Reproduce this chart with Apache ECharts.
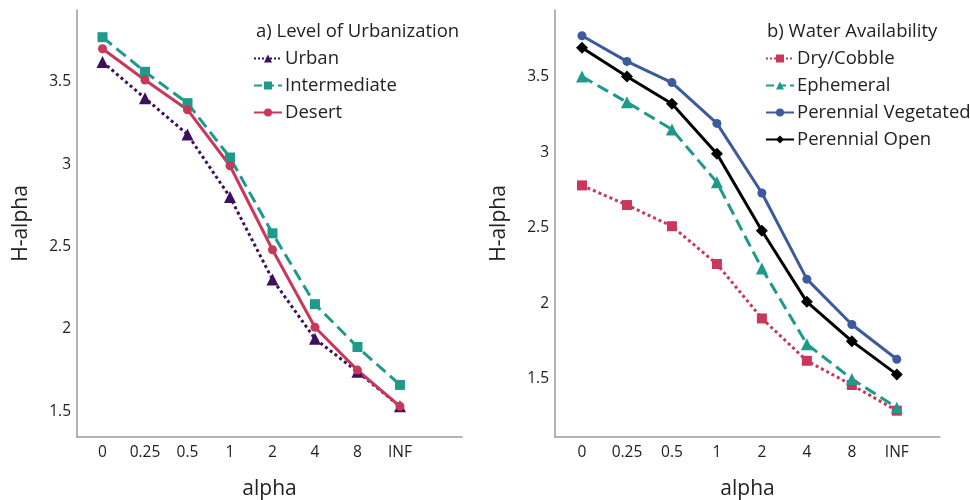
<!DOCTYPE html>
<html>
<head>
<meta charset="utf-8">
<script src="https://cdn.jsdelivr.net/npm/echarts@6/dist/echarts.min.js"></script>
<style>
  html, body { margin: 0; padding: 0; background: #fff; }
  #chart { width: 970px; height: 500px; }
</style>
</head>
<body>
<div id="chart"></div>
<script>
// categories on the x axis
var alphaLabels = ['0', '0.25', '0.5', '1', '2', '4', '8', 'INF'];
var yTicks = [1.5, 2, 2.5, 3, 3.5];

// a) level of urbanization
var urban        = [3.62, 3.40, 3.18, 2.80, 2.30, 1.94, 1.74, 1.53];
var intermediate = [3.77, 3.56, 3.37, 3.04, 2.58, 2.15, 1.89, 1.66];
var desert       = [3.70, 3.51, 3.33, 2.99, 2.48, 2.01, 1.75, 1.53];

// b) water availability
var dryCobble    = [2.78, 2.65, 2.51, 2.26, 1.90, 1.62, 1.46, 1.29];
var ephemeral    = [3.50, 3.33, 3.15, 2.80, 2.23, 1.73, 1.50, 1.31];
var perVegetated = [3.77, 3.60, 3.46, 3.19, 2.73, 2.16, 1.86, 1.63];
var perOpen      = [3.69, 3.50, 3.32, 2.99, 2.48, 2.01, 1.75, 1.53];

var font = '"Open Sans", sans-serif';
var axisColor = '#9a9a9a';

function pairs(arr) {
  return arr.map(function (v, i) { return [i, v]; });
}

function xAxis(idx, max) {
  return {
    type: 'value', gridIndex: idx, min: -0.6, max: max,
    name: 'alpha', nameLocation: 'middle', nameGap: 42,
    nameTextStyle: { fontSize: 21, color: '#222', fontFamily: font },
    axisLine: { show: true, onZero: false, lineStyle: { color: axisColor, width: 1.5 } },
    axisTick: { show: false },
    splitLine: { show: false },
    axisLabel: {
      customValues: [0, 1, 2, 3, 4, 5, 6, 7],
      formatter: function (v) { return alphaLabels[Math.round(v)]; },
      fontSize: 15.5, color: '#222', fontFamily: font, margin: 8
    }
  };
}

function yAxis(idx, min, max) {
  return {
    type: 'value', gridIndex: idx, min: min, max: max,
    name: 'H-alpha', nameLocation: 'middle', nameGap: 45,
    nameTextStyle: { fontSize: 21, color: '#222', fontFamily: font },
    axisLine: { show: true, onZero: false, lineStyle: { color: axisColor, width: 1.5 } },
    axisTick: { show: false },
    splitLine: { show: false },
    axisLabel: {
      customValues: yTicks,
      fontSize: 15.5, color: '#222', fontFamily: font, margin: 6
    }
  };
}

function line(name, data, idx, color, type, symbol, size) {
  return {
    name: name, type: 'line', xAxisIndex: idx, yAxisIndex: idx,
    data: pairs(data), symbol: symbol, symbolSize: size,
    itemStyle: { color: color },
    lineStyle: { color: color, width: 3, type: type },
    emphasis: { disabled: true }
  };
}

var legendText = { fontSize: 18.5, color: '#222', padding: [0, 0, 0, -2] };

var chart = echarts.init(document.getElementById('chart'));
chart.setOption({
  animation: false,
  textStyle: { fontFamily: font },
  title: [
    { text: 'a) Level of Urbanization', left: 256, top: 22, padding: 0,
      textStyle: { fontSize: 18.5, fontWeight: 'normal', color: '#222' } },
    { text: 'b) Water Availability', left: 767, top: 22, padding: 0,
      textStyle: { fontSize: 18.5, fontWeight: 'normal', color: '#222' } }
  ],
  legend: [
    { data: ['Urban', 'Intermediate', 'Desert'], orient: 'vertical', padding: 0,
      left: 253, top: 49, itemWidth: 28, itemHeight: 10, itemGap: 8,
      textStyle: legendText },
    { data: ['Dry/Cobble', 'Ephemeral', 'Perennial Vegetated', 'Perennial Open'],
      orient: 'vertical', left: 765, top: 49, padding: 0,
      itemWidth: 28, itemHeight: 10, itemGap: 8,
      textStyle: legendText }
  ],
  grid: [
    { left: 77, top: 10, right: 508, bottom: 63, outerBoundsMode: 'none' },
    { left: 555, top: 10, right: 30, bottom: 63, outerBoundsMode: 'none' }
  ],
  xAxis: [xAxis(0, 8.46), xAxis(1, 7.96)],
  yAxis: [yAxis(0, 1.344, 3.935), yAxis(1, 1.116, 3.94)],
  series: [
    line('Urban', urban, 0, '#3e0f5c', 'dotted', 'triangle', 12),
    line('Intermediate', intermediate, 0, '#1f9a8a', 'dashed', 'rect', 10),
    line('Desert', desert, 0, '#c8385a', 'solid', 'circle', 9),
    line('Dry/Cobble', dryCobble, 1, '#c8385a', 'dotted', 'rect', 10),
    line('Ephemeral', ephemeral, 1, '#1f9a8a', 'dashed', 'triangle', 12),
    line('Perennial Vegetated', perVegetated, 1, '#3d5a9c', 'solid', 'circle', 9),
    line('Perennial Open', perOpen, 1, '#000000', 'solid', 'diamond', 12)
  ]
});
</script>
</body>
</html>
